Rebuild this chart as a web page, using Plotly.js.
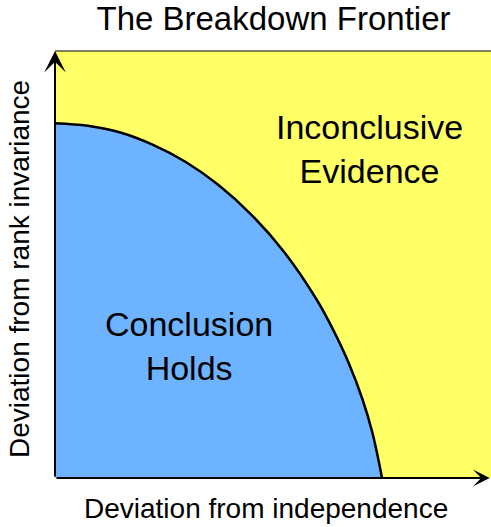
<!DOCTYPE html>
<html>
<head>
<meta charset="utf-8">
<script src="https://cdn.plot.ly/plotly-3.0.1.min.js"></script>
<style>html,body{margin:0;padding:0;background:#fff;}#chart{width:491px;height:527px;}</style>
</head>
<body>
<div id="chart"></div>
<script>
// Frontier curve (deviation from independence vs. deviation from rank invariance), 0-100 scale
var frontierX = [0, 7.5, 15, 22.5, 30, 37.5, 45, 52.5, 60, 63.75, 67.5, 70.5, 72.75, 74.25, 75.0];
var frontierY = [83.1, 82.5, 80.9, 78.0, 74.0, 68.6, 61.7, 53.0, 41.8, 34.8, 26.6, 18.5, 10.8, 3.9, 0];
var axisMax = 100;
var regionLabels = ["Inconclusive<br>Evidence", "Conclusion<br>Holds"];
var regionLabelX = [72.2, 30.7];
var regionLabelY = [77.0, 30.9];

var FONT = "Liberation Sans, Arial, Helvetica, sans-serif";

var traces = [{
  type: "scatter",
  mode: "lines",
  x: frontierX,
  y: frontierY,
  fill: "tozeroy",
  fillcolor: "#6DB3FF",
  line: {color: "#000000", width: 2.5, shape: "spline", smoothing: 1},
  hoverinfo: "skip",
  cliponaxis: false
}];

var annotations = [
  {xref: "x", yref: "y", x: regionLabelX[0], y: regionLabelY[0], text: regionLabels[0], showarrow: false,
   font: {family: FONT, size: 34, color: "#000"}, align: "center"},
  {xref: "x", yref: "y", x: regionLabelX[1], y: regionLabelY[1], text: regionLabels[1], showarrow: false,
   font: {family: FONT, size: 34, color: "#000"}, align: "center"},
  // axis arrows
  {xref: "x", yref: "y", axref: "x", ayref: "y", x: 0, y: axisMax, ax: 0, ay: 0, text: "",
   showarrow: true, arrowhead: 3, arrowwidth: 2, arrowsize: 1.8, arrowcolor: "#000"},
  {xref: "x", yref: "y", axref: "x", ayref: "y", x: axisMax * 0.997, y: 0, ax: 0, ay: 0, text: "",
   showarrow: true, arrowhead: 3, arrowwidth: 2, arrowsize: 1.4, arrowcolor: "#000"},
  // axis titles
  {xref: "paper", yref: "paper", x: 0.484, y: -0.072, text: "Deviation from independence", showarrow: false,
   xanchor: "center", yanchor: "middle", font: {family: FONT, size: 28, color: "#000"}},
  {xref: "paper", yref: "paper", x: -0.083, y: 0.489, text: "Deviation from rank invariance", showarrow: false,
   textangle: -90, xanchor: "center", yanchor: "middle", font: {family: FONT, size: 28, color: "#000"}}
];

var layout = {
  width: 491,
  height: 527,
  margin: {l: 55, r: 0, t: 51, b: 49, pad: 0},
  paper_bgcolor: "#ffffff",
  plot_bgcolor: "#FFFF66",
  showlegend: false,
  title: {
    text: "The Breakdown Frontier",
    x: 0.557, xanchor: "center", xref: "container",
    y: 1 - 18 / 527, yanchor: "middle", yref: "container",
    pad: {t: 0, b: 0, l: 0, r: 0},
    font: {family: FONT, size: 33, color: "#000"}
  },
  xaxis: {range: [0, axisMax], showgrid: false, zeroline: false, showticklabels: false, ticks: "", showline: false, fixedrange: true},
  yaxis: {range: [0, axisMax], showgrid: false, zeroline: false, showticklabels: false, ticks: "", showline: false, fixedrange: true},
  shapes: [
    {type: "line", xref: "paper", yref: "paper", x0: 0, x1: 1, y0: 1, y1: 1, line: {color: "#000", width: 1}}
  ],
  annotations: annotations
};

Plotly.newPlot("chart", traces, layout, {displayModeBar: false, staticPlot: true});
</script>
</body>
</html>
